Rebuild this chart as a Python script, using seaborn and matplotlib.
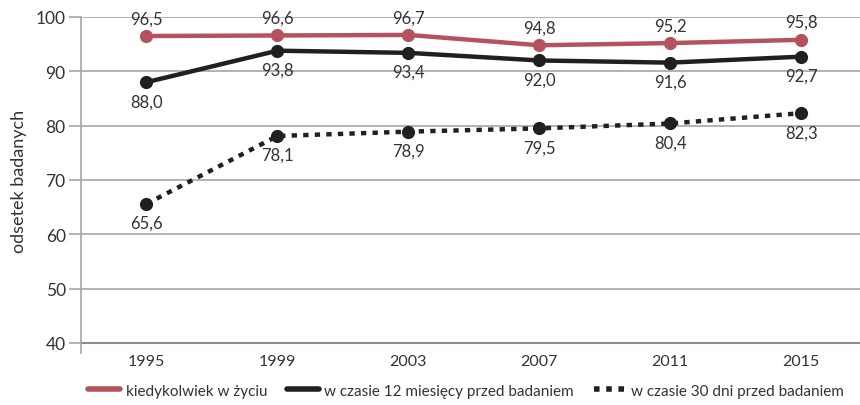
import matplotlib
matplotlib.use("Agg")
import matplotlib.pyplot as plt
import seaborn as sns
import pandas as pd
from matplotlib.lines import Line2D

years = ["1995", "1999", "2003", "2007", "2011", "2015"]
ever = [96.5, 96.6, 96.7, 94.8, 95.2, 95.8]
last_12_months = [88.0, 93.8, 93.4, 92.0, 91.6, 92.7]
last_30_days = [65.6, 78.1, 78.9, 79.5, 80.4, 82.3]
series_names = ["kiedykolwiek w życiu",
                "w czasie 12 miesięcy przed badaniem",
                "w czasie 30 dni przed badaniem"]
y_ticks = [40, 50, 60, 70, 80, 90, 100]

sns.set_theme(style="white")
plt.rcParams["font.family"] = ["Lato", "DejaVu Sans"]

text_color = "#333333"
red = "#b4535d"
black = "#231f20"
grid_color = "#a6a6a6"

fig = plt.figure(figsize=(8.6, 4.06), dpi=100)
ax = fig.add_axes([81 / 860, 1 - 344 / 406, 1 - 81 / 860, (344 - 18) / 406])

x = list(range(len(years)))
styles = [
    (ever, red, "-", "above"),
    (last_12_months, black, "-", "below"),
    (last_30_days, black, "dotted", "below"),
]

for (vals, color, ls, where), name in zip(styles, series_names):
    df = pd.DataFrame({"x": x, "y": vals})
    line_kw = dict(color=color, linewidth=3.2, marker="o", markersize=9.5,
                   markeredgewidth=0, zorder=3)
    if ls == "dotted":
        sns.lineplot(data=df, x="x", y="y", ax=ax, dashes=False, **line_kw)
        ln = ax.lines[-1]
        ln.set_dashes([1.2, 1.4])
        ln.set_dash_capstyle("butt")
    else:
        sns.lineplot(data=df, x="x", y="y", ax=ax, **line_kw)
        ax.lines[-1].set_solid_capstyle("round")
    for xi, v in zip(x, vals):
        label = f"{v:.1f}".replace(".", ",")
        if where == "above":
            ax.annotate(label, (xi, v), xytext=(0, 7), textcoords="offset points",
                        ha="center", va="bottom", fontsize=12, color=text_color)
        else:
            ax.annotate(label, (xi, v), xytext=(0, -8), textcoords="offset points",
                        ha="center", va="top", fontsize=12, color=text_color)

ax.set_xlim(-0.5, 5.45)
ax.set_ylim(40, 100)
ax.set_yticks(y_ticks)
ax.set_yticklabels([str(t) for t in y_ticks], fontsize=12.5, color=text_color)
ax.set_xticks(x)
ax.set_xticklabels(years, fontsize=11.5, color=text_color)
ax.tick_params(axis="x", length=0, pad=8)
ax.tick_params(axis="y", length=9, width=1.2, color=grid_color, pad=2, left=True)
ax.set_xlabel("")
ax.set_ylabel("odsetek badanych", fontsize=13, color=text_color, labelpad=6)

ax.grid(axis="y", color=grid_color, linewidth=1.2)
ax.grid(axis="x", visible=False)
for s in ["top", "right", "bottom"]:
    ax.spines[s].set_visible(False)
ax.spines["left"].set_color(grid_color)
ax.spines["left"].set_linewidth(1.2)
ax.spines["left"].set_bounds(38.2, 100)
ax.axhline(40, color="#8c8c8c", linewidth=1.5, zorder=1, clip_on=False)

handles = [
    Line2D([], [], color=red, linewidth=4, solid_capstyle="round"),
    Line2D([], [], color=black, linewidth=4, solid_capstyle="round"),
    Line2D([], [], color=black, linewidth=4, dashes=[1.0, 1.2], dash_capstyle="butt"),
]
fig.legend(handles, series_names, loc="center", bbox_to_anchor=(0.542, 0.035),
           ncol=3, frameon=False, fontsize=11, handlelength=2.1,
           handletextpad=0.35, columnspacing=1.3, labelcolor=text_color)

fig.savefig("out.png", dpi=100)
